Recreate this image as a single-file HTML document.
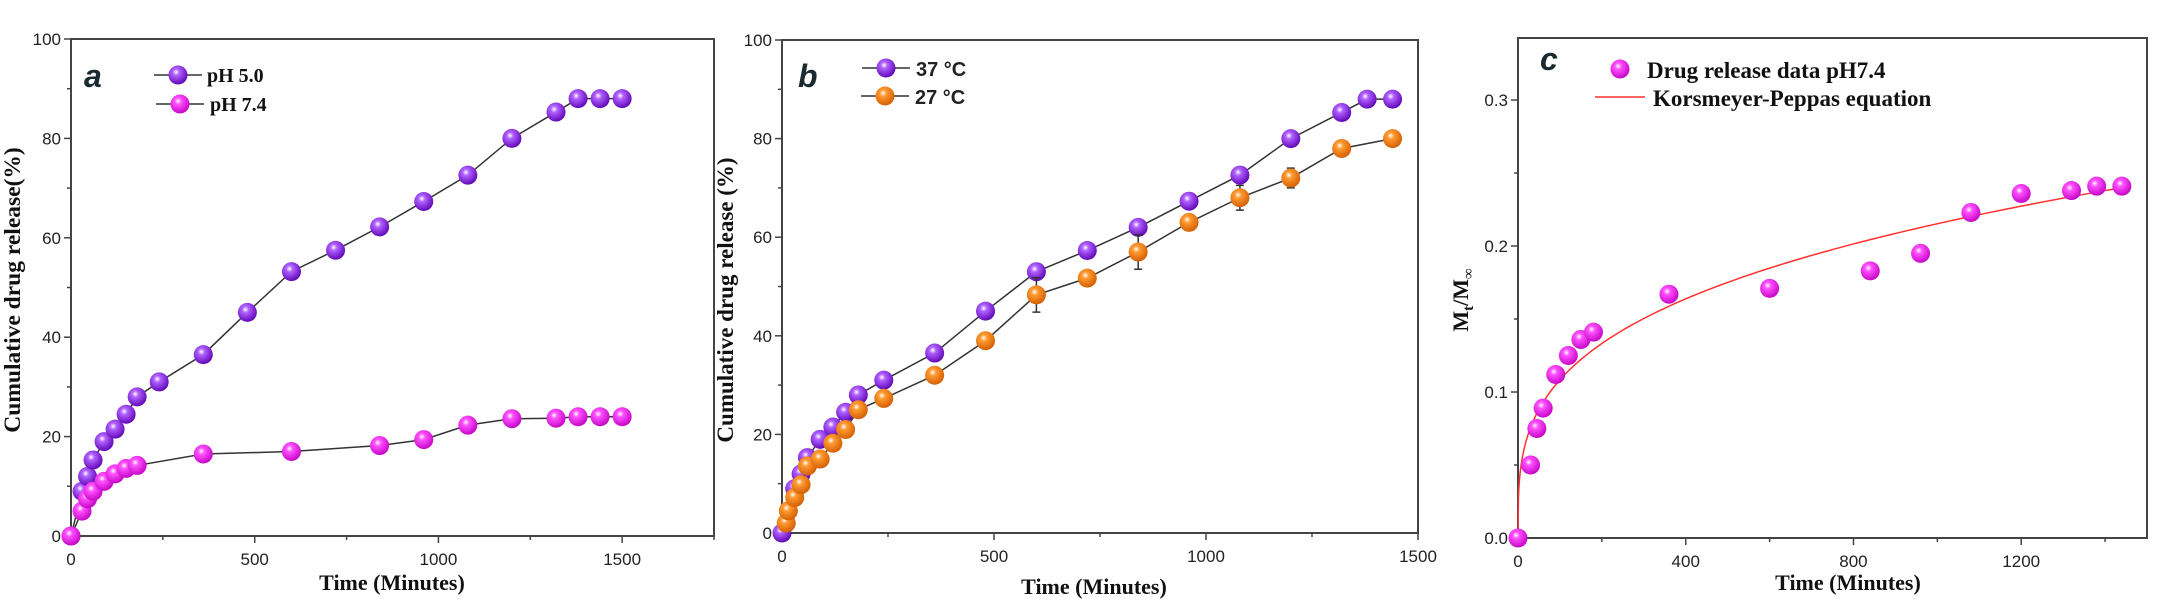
<!DOCTYPE html>
<html><head><meta charset="utf-8"><style>
html,body{margin:0;padding:0;background:#fff;}
svg{display:block}
.tk{font-family:"Liberation Sans",sans-serif;font-size:17px;fill:#222}
.tt{font-family:"Liberation Serif",serif;font-weight:bold;font-size:22px;fill:#111}
.lg{font-family:"Liberation Serif",serif;font-weight:bold;font-size:20px;fill:#111}
.pl{font-family:"Liberation Sans",sans-serif;font-weight:bold;font-style:italic;font-size:32px;fill:#1a2a30}
</style></head><body>
<svg id="s" width="2158" height="601" xmlns="http://www.w3.org/2000/svg">
<defs>
<radialGradient id="gp" cx="0.4" cy="0.35" r="0.7"><stop offset="0" stop-color="#fff"/><stop offset="0.25" stop-color="#b060ff"/><stop offset="1" stop-color="#5a00b0"/></radialGradient>
<radialGradient id="gm" cx="0.4" cy="0.35" r="0.7"><stop offset="0" stop-color="#fff"/><stop offset="0.25" stop-color="#ff50ff"/><stop offset="1" stop-color="#c000c0"/></radialGradient>
<radialGradient id="go" cx="0.4" cy="0.35" r="0.7"><stop offset="0" stop-color="#fff"/><stop offset="0.25" stop-color="#ff9a30"/><stop offset="1" stop-color="#d05a00"/></radialGradient>
</defs>
</svg>
<script>
const s=document.getElementById('s');let h='';const R=9.5;
function ax(o){
 const {x0,x1,y0,y1,xmax,ymax,xt,yt,xm,ym,yfmt}=o;
 const X=v=>x0+(x1-x0)*v/xmax, Y=v=>y0-(y0-y1)*v/ymax;
 h+=`<rect x="${x0}" y="${y1}" width="${x1-x0}" height="${y0-y1}" fill="none" stroke="#444" stroke-width="2"/>`;
 for(let v=0;v<=xmax+1e-9;v+=xm){const maj=Math.abs(v/xt-Math.round(v/xt))<1e-6;h+=`<line x1="${X(v)}" y1="${y0}" x2="${X(v)}" y2="${y0+(maj?7:4)}" stroke="#444" stroke-width="1.5"/>`;
  if(maj)h+=`<text class="tk" x="${X(v)}" y="${y0+29}" text-anchor="middle">${v}</text>`;}
 for(let v=0;v<=ymax+1e-9;v+=ym){const maj=Math.abs(v/yt-Math.round(v/yt))<1e-6;h+=`<line x1="${x0}" y1="${Y(v)}" x2="${x0-(maj?7:4)}" y2="${Y(v)}" stroke="#444" stroke-width="1.5"/>`;
  if(maj)h+=`<text class="tk" x="${x0-10}" y="${Y(v)+6}" text-anchor="end">${yfmt?yfmt(v):Math.round(v)}</text>`;}
 return [X,Y];
}
function ser(X,Y,d,g,line){
 if(line)h+=`<polyline points="${d.map(p=>X(p[0])+','+Y(p[1])).join(' ')}" fill="none" stroke="#333" stroke-width="1.5"/>`;
 d.forEach(p=>{if(p[2])h+=`<path d="M${X(p[0])} ${Y(p[1]-p[2])}V${Y(p[1]+p[2])}M${X(p[0])-4} ${Y(p[1]-p[2])}h8M${X(p[0])-4} ${Y(p[1]+p[2])}h8" stroke="#333" stroke-width="1.5"/>`;
  h+=`<circle cx="${X(p[0])}" cy="${Y(p[1])}" r="${R}" fill="url(#${g})"/>`;});
}
// panel a
let [X,Y]=ax({x0:71,x1:714,y0:536,y1:39,xmax:1750,ymax:100,xt:500,yt:20,xm:250,ym:10});
const a1=[[0,0],[30,9],[45,12],[60,15.3],[90,19],[120,21.5],[150,24.5],[180,28],[240,31],[360,36.5],[480,45],[600,53.2],[720,57.5],[840,62.2],[960,67.3],[1080,72.6],[1200,80],[1320,85.3],[1380,88],[1440,88],[1500,88]];
const a2=[[0,0],[30,5],[45,7.5],[60,9],[90,11],[120,12.5],[150,13.6],[180,14.2],[360,16.5],[600,17],[840,18.2],[960,19.4],[1080,22.3],[1200,23.6],[1320,23.7],[1380,24],[1440,24],[1500,24]];
ser(X,Y,a1,'gp',1);ser(X,Y,a2,'gm',1);
h+=`<text class="pl" x="84" y="87">a</text>`;
h+=`<line x1="154" y1="75" x2="202" y2="75" stroke="#333" stroke-width="1.5"/><circle cx="178" cy="75" r="${R}" fill="url(#gp)"/><text class="lg" x="207" y="82">pH 5.0</text>`;
h+=`<line x1="156" y1="104" x2="204" y2="104" stroke="#333" stroke-width="1.5"/><circle cx="180" cy="104" r="${R}" fill="url(#gm)"/><text class="lg" x="210" y="111">pH 7.4</text>`;
h+=`<text class="tt" x="392" y="590" text-anchor="middle">Time (Minutes)</text>`;
h+=`<text class="tt" style="font-size:23.5px" transform="translate(20,290) rotate(-90)" text-anchor="middle">Cumulative drug release(%)</text>`;
// panel b
[X,Y]=ax({x0:782,x1:1418,y0:533,y1:40,xmax:1500,ymax:100,xt:500,yt:20,xm:250,ym:10});
const b1=[[0,0],[30,9],[45,12],[60,15.3],[90,19],[120,21.5],[150,24.5],[180,28],[240,31],[360,36.5],[480,45],[600,53],[720,57.3],[840,62],[960,67.3],[1080,72.6],[1200,80],[1320,85.3],[1380,88],[1440,88]];
const b2=[[10,2,1],[15,4.5,1.5],[30,7.2,1],[45,9.8],[60,13.6,1],[90,15],[120,18.2,1.2],[150,21],[180,25],[240,27.3],[360,32,1],[480,39],[600,48.3,3.5],[720,51.7,1.5],[840,57,3.5],[960,63,1],[1080,68,2.5],[1200,72,2],[1320,78,1.5],[1440,80,1]];
ser(X,Y,b1,'gp',1);ser(X,Y,b2,'go',1);
h+=`<text class="pl" x="798" y="87">b</text>`;
h+=`<line x1="862" y1="68" x2="910" y2="68" stroke="#333" stroke-width="1.5"/><circle cx="886" cy="68" r="${R}" fill="url(#gp)"/><text class="tk" style="font-size:20px;font-weight:bold" x="916" y="76">37 °C</text>`;
h+=`<line x1="861" y1="96" x2="909" y2="96" stroke="#333" stroke-width="1.5"/><circle cx="885" cy="96" r="${R}" fill="url(#go)"/><text class="tk" style="font-size:20px;font-weight:bold" x="915" y="104">27 °C</text>`;
h+=`<text class="tt" x="1094" y="594" text-anchor="middle">Time (Minutes)</text>`;
h+=`<text class="tt" style="font-size:23px" transform="translate(733,300) rotate(-90)" text-anchor="middle">Cumulative drug release (%)</text>`;
// panel c
[X,Y]=ax({x0:1518,x1:2147,y0:538,y1:38,xmax:1500,ymax:0.3425,xt:400,yt:0.1,xm:200,ym:0.05,yfmt:v=>v.toFixed(1)});
const n=Math.log(0.24/0.105)/Math.log(16),k=0.24/Math.pow(1440,n);
let pts=[];for(let t=0;t<=1440;t+=(t<60?1:10))pts.push(X(t)+','+Y(k*Math.pow(t,n)));
h+=`<polyline points="${pts.join(' ')}" fill="none" stroke="#ff3030" stroke-width="1.5"/>`;
const c1=[[0,0],[30,0.05],[45,0.075],[60,0.089],[90,0.112],[120,0.125],[150,0.136],[180,0.141],[360,0.167],[600,0.171],[840,0.183],[960,0.195],[1080,0.223],[1200,0.236],[1320,0.238],[1380,0.241],[1440,0.241]];
ser(X,Y,c1,'gm',0);
h+=`<text class="pl" x="1540" y="70">c</text>`;
h+=`<circle cx="1620" cy="69" r="${R}" fill="url(#gm)"/><text class="lg" style="font-size:23px" x="1647" y="78">Drug release data pH7.4</text>`;
h+=`<line x1="1595" y1="97" x2="1645" y2="97" stroke="#ff3030" stroke-width="1.5"/><text class="lg" style="font-size:23px" x="1653" y="106">Korsmeyer-Peppas equation</text>`;
h+=`<text class="tt" x="1848" y="590" text-anchor="middle">Time (Minutes)</text>`;
h+=`<text class="tt" transform="translate(1468,300) rotate(-90)" text-anchor="middle">M<tspan dy="5" font-size="15">t</tspan><tspan dy="-5">/M</tspan><tspan dy="5" font-size="15">∞</tspan></text>`;
s.innerHTML+=h;
</script>
</body></html>
